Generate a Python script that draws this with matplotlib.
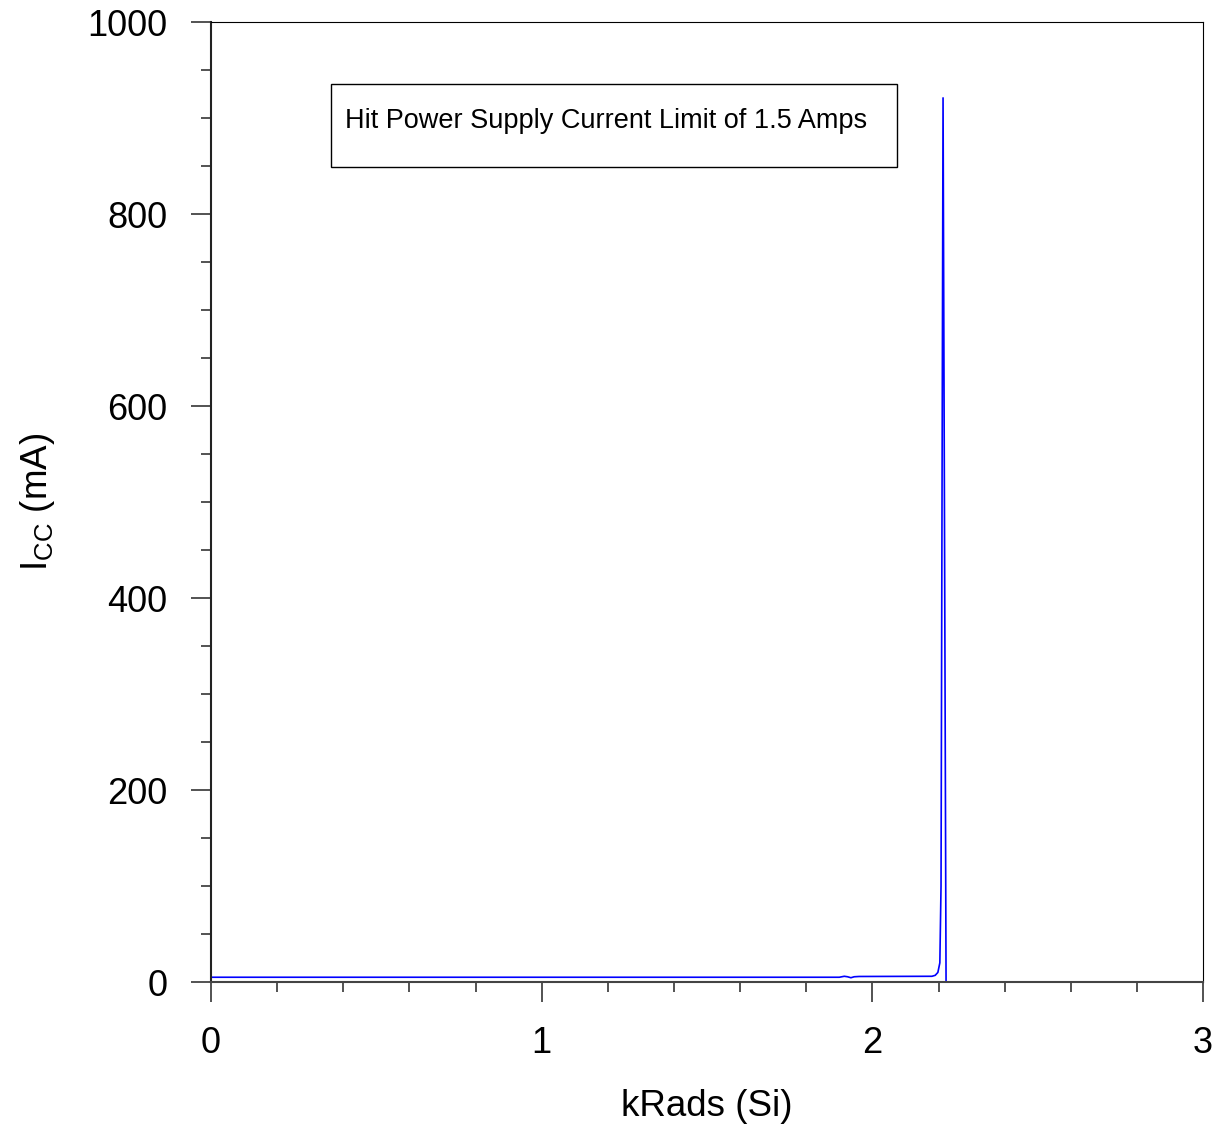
import numpy as np
import matplotlib
matplotlib.use("Agg")
import matplotlib.pyplot as plt
from matplotlib.patches import Rectangle
from matplotlib.ticker import MultipleLocator

plt.rcParams.update({"font.family": ["Liberation Sans", "DejaVu Sans"],
                     "mathtext.fontset": "custom",
                     "mathtext.rm": "Liberation Sans",
                     "mathtext.it": "Liberation Sans"})

# ── Dados ─────────────────────────────────────────────────────────────────────
krads = [0.0, 1.90, 1.915, 1.925, 1.935, 1.945, 1.96, 2.18, 2.19, 2.198,
         2.204, 2.2076, 2.2137, 2.2228, 2.2379]
icc_ma = [5.0, 5.0, 6.0, 5.5, 4.5, 5.5, 5.8, 6.0, 7.0, 10.0,
          20.0, 100.0, 921.0, 0.0, 0.0]
nota = "Hit Power Supply Current Limit of 1.5 Amps"

fig = plt.figure(figsize=(12.22, 11.31), dpi=100)
ax = fig.add_axes([0.1727, 0.1317, 0.8118, 0.8488])
ax.plot(krads, icc_ma, color="#0000ff", lw=1.2)

ax.set_xlim(0, 3)
ax.set_ylim(0, 1000)
ax.xaxis.set_major_locator(MultipleLocator(1))
ax.xaxis.set_minor_locator(MultipleLocator(0.2))
ax.yaxis.set_major_locator(MultipleLocator(200))
ax.yaxis.set_minor_locator(MultipleLocator(50))
ax.tick_params(which="major", direction="out", length=14.5, width=1.3,
               labelsize=26, color="#444444")
ax.tick_params(which="minor", direction="out", length=7.5, width=1.3,
               color="#444444")
ax.tick_params(axis="x", which="major", pad=17)
ax.tick_params(axis="y", which="major", pad=17)
ax.spines["bottom"].set_color("#444444")
ax.spines["bottom"].set_linewidth(1.5)
ax.spines["left"].set_linewidth(1.5)
ax.spines["left"].set_color("#222222")

ax.set_xlabel("kRads (Si)", fontsize=26.5, labelpad=20)
ax.set_ylabel(r"I$_{\mathrm{CC}}$ (mA)", fontsize=26.5, labelpad=22)

# caixa da anotação
ax.add_patch(Rectangle((0.363, 849), 2.075 - 0.363, 935.4 - 849,
                       fc="white", ec="black", lw=1.0, zorder=3))
ax.text(0.405, 889.5, nota, fontsize=19.5, va="baseline", ha="left", zorder=4)

fig.savefig("out.png", dpi=100)
